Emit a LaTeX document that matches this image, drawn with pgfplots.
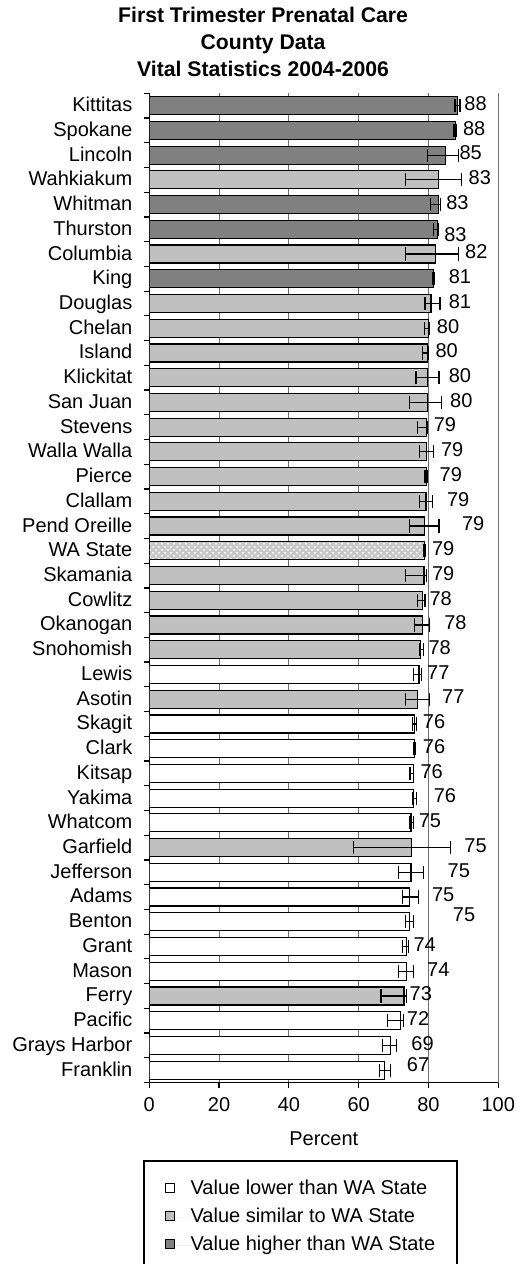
\documentclass[border=0pt]{standalone}
\usepackage{fontspec}
\setmainfont{Liberation Sans}
\usepackage{pgfplots}
\usepackage{pgfplotstable}
\pgfplotsset{compat=1.18}
\usetikzlibrary{patterns}

\definecolor{cHigher}{RGB}{128,128,128}
\definecolor{cSimilar}{RGB}{192,192,192}
\definecolor{cGrid}{RGB}{110,110,110}

% y = row (0 = top), x = percent, em/ep = lower/upper CI distance
\pgfplotstableread{
y x em ep
23 77.3 1.7 0.7
25 75.9 0.5 0.7
26 75.9 0.3 0.4
27 75.6 0.9 0.2
28 75.6 0.2 1.0
29 75.0 0.5 0.8
31 75.0 3.5 3.5
32 74.6 2.1 2.5
33 74.5 1.1 1.3
34 73.8 1.3 0.4
35 73.6 2.1 2.0
37 72.0 3.7 0.8
38 69.0 2.2 1.9
39 67.3 1.4 1.7
}\tablower

\pgfplotstableread{
y x em ep
3 82.9 9.6 6.6
6 81.9 8.6 6.6
8 80.7 1.7 2.6
9 80.0 1.2 0.4
10 79.8 1.6 0.1
11 79.8 3.4 3.2
12 79.8 5.3 4.0
13 79.4 2.5 0.3
14 79.4 2.0 2.0
15 79.4 0.4 0.3
16 79.3 1.9 1.9
17 78.9 4.4 4.1
19 78.7 5.4 0.8
20 78.3 1.4 0.7
21 78.3 2.4 1.9
22 77.8 0.4 0.7
24 76.9 3.6 3.3
30 75.1 16.6 11.1
36 73.0 6.6 0.7
}\tabsimilar

\pgfplotstableread{
y x em ep
0 88.4 0.8 0.6
1 87.7 0.4 0.2
2 84.8 5.1 3.7
4 82.9 2.3 0.6
5 82.6 1.2 0.2
7 81.5 0.4 0.1
}\tabhigher

\pgfplotstableread{
y x em ep
18 78.9 0.2 0.3
}\tabstate

% data labels: position of the label's left edge
\pgfplotstableread{
ly lx lab
0 90.2 88
1 89.8 88
2 88.8 85
3 91.4 83
4 85.0 83
5.28 84.4 83
6 90.4 82
7 85.7 81
8 85.7 81
9 82.3 80
10 81.9 80
11 85.7 80
12 86.1 80
13 81.4 79
14 83.5 79
15 83.1 79
16 85.2 79
17 89.5 79
18 80.9 79
19 80.9 79
20 80.2 78
21 84.4 78
22 79.9 78
23 79.5 77
24 83.8 77
25 78.3 76
26 78.3 76
27 77.6 76
28 81.4 76
29 77.1 75
30 90.2 75
31 85.4 75
32 80.9 75
32.8 86.9 75
34 75.6 74
35 79.5 74
36 74.5 73
37 73.7 72
38 75.0 69
38.85 73.7 67
}\tablabels

\begin{document}
\begin{tikzpicture}
\begin{axis}[
  scale only axis, width=174.5pt, height=494.6pt,
  xmin=0, xmax=100, ymin=-0.5, ymax=39.5, y dir=reverse,
  axis x line*=bottom, axis y line*=left,
  axis line style={black, line width=0.6pt},
  xtick={0,20,...,100},
  ytick={-0.5,0.5,...,39.5},
  yticklabels={{},Kittitas,Spokane,Lincoln,Wahkiakum,Whitman,Thurston,Columbia,King,Douglas,Chelan,Island,Klickitat,San Juan,Stevens,Walla Walla,Pierce,Clallam,Pend Oreille,WA State,Skamania,Cowlitz,Okanogan,Snohomish,Lewis,Asotin,Skagit,Clark,Kitsap,Yakima,Whatcom,Garfield,Jefferson,Adams,Benton,Grant,Mason,Ferry,Pacific,Grays Harbor,Franklin},
  tick align=outside, major tick length=2.5pt,
  tick style={black, line width=0.6pt},
  xmajorgrids, grid style={cGrid, line width=0.5pt},
  /pgf/number format/assume math mode=true,
  tick label style={font=\fontsize{10}{12}\selectfont, inner sep=0pt},
  xticklabel style={anchor=base, yshift=-11.8pt},
  yticklabel style={anchor=base east, xshift=-5.8pt, yshift=3.2pt},
  xlabel={Percent},
  xlabel style={at={(axis description cs:0.5,0)}, anchor=base, yshift=-31.4pt, font=\fontsize{10}{12}\selectfont},
  legend cell align=left,
  legend image code/.code={
    \draw[#1, line width=0.5pt] (0pt,-1.8pt) rectangle (4.4pt,2.6pt);
    \path[draw=none] (0pt,0pt) -- (12.5pt,0pt);
  },
  legend style={
    at={(axis description cs:0,0)}, anchor=north west,
    xshift=-3.3pt, yshift=-38.75pt,
    draw=black, line width=1pt, fill=white,
    inner xsep=10.7pt, inner ysep=9pt,
    row sep=4pt, column sep=0pt,
    font=\fontsize{10}{12}\selectfont,
    nodes={inner sep=0pt, text height=7.5pt, text depth=2.5pt},
    column 2/.style={nodes={text width=138.7pt}},
  },
  mybar/.style={
    xbar, bar width=9pt, bar shift=0pt, draw=black, line width=0.6pt,
    error bars/x dir=both, error bars/x explicit,
    error bars/error bar style={black, line width=0.6pt},
    error bars/error mark options={black, line width=0.6pt, mark size=3.3pt, rotate=90},
  },
]
\addplot[mybar, fill=white] table[x=x, y=y, x error plus=ep, x error minus=em] {\tablower};
\addlegendentry{Value lower than WA State}
\addplot[mybar, fill=cSimilar] table[x=x, y=y, x error plus=ep, x error minus=em] {\tabsimilar};
\addlegendentry{Value similar to WA State}
\addplot[mybar, fill=cHigher] table[x=x, y=y, x error plus=ep, x error minus=em] {\tabhigher};
\addlegendentry{Value higher than WA State}
\addplot[mybar, forget plot, fill=cSimilar!85, postaction={pattern=crosshatch dots, pattern color=white}] table[x=x, y=y, x error plus=ep, x error minus=em] {\tabstate};
\addplot[draw=none, forget plot, nodes near coords, point meta=explicit symbolic,
  nodes near coords style={anchor=base west, inner sep=0pt, yshift=-2.4pt, font=\fontsize{10}{12}\selectfont}]
  table[x=lx, y=ly, meta=lab] {\tablabels};
\end{axis}
\node[anchor=base, font=\fontsize{10.6}{12}\selectfont\bfseries] at ([xshift=56.9pt, yshift=35.2pt]current axis.north west) {First Trimester Prenatal Care};
\node[anchor=base, font=\fontsize{10.6}{12}\selectfont\bfseries] at ([xshift=56.9pt, yshift=21.7pt]current axis.north west) {County Data};
\node[anchor=base, font=\fontsize{10.6}{12}\selectfont\bfseries] at ([xshift=56.9pt, yshift=8.2pt]current axis.north west) {Vital Statistics 2004-2006};
\pgfresetboundingbox
\path ([xshift=-74.65pt, yshift=46.65pt]current axis.north west) rectangle ([xshift=182.85pt, yshift=-585.35pt]current axis.north west);
\end{tikzpicture}
\end{document}
